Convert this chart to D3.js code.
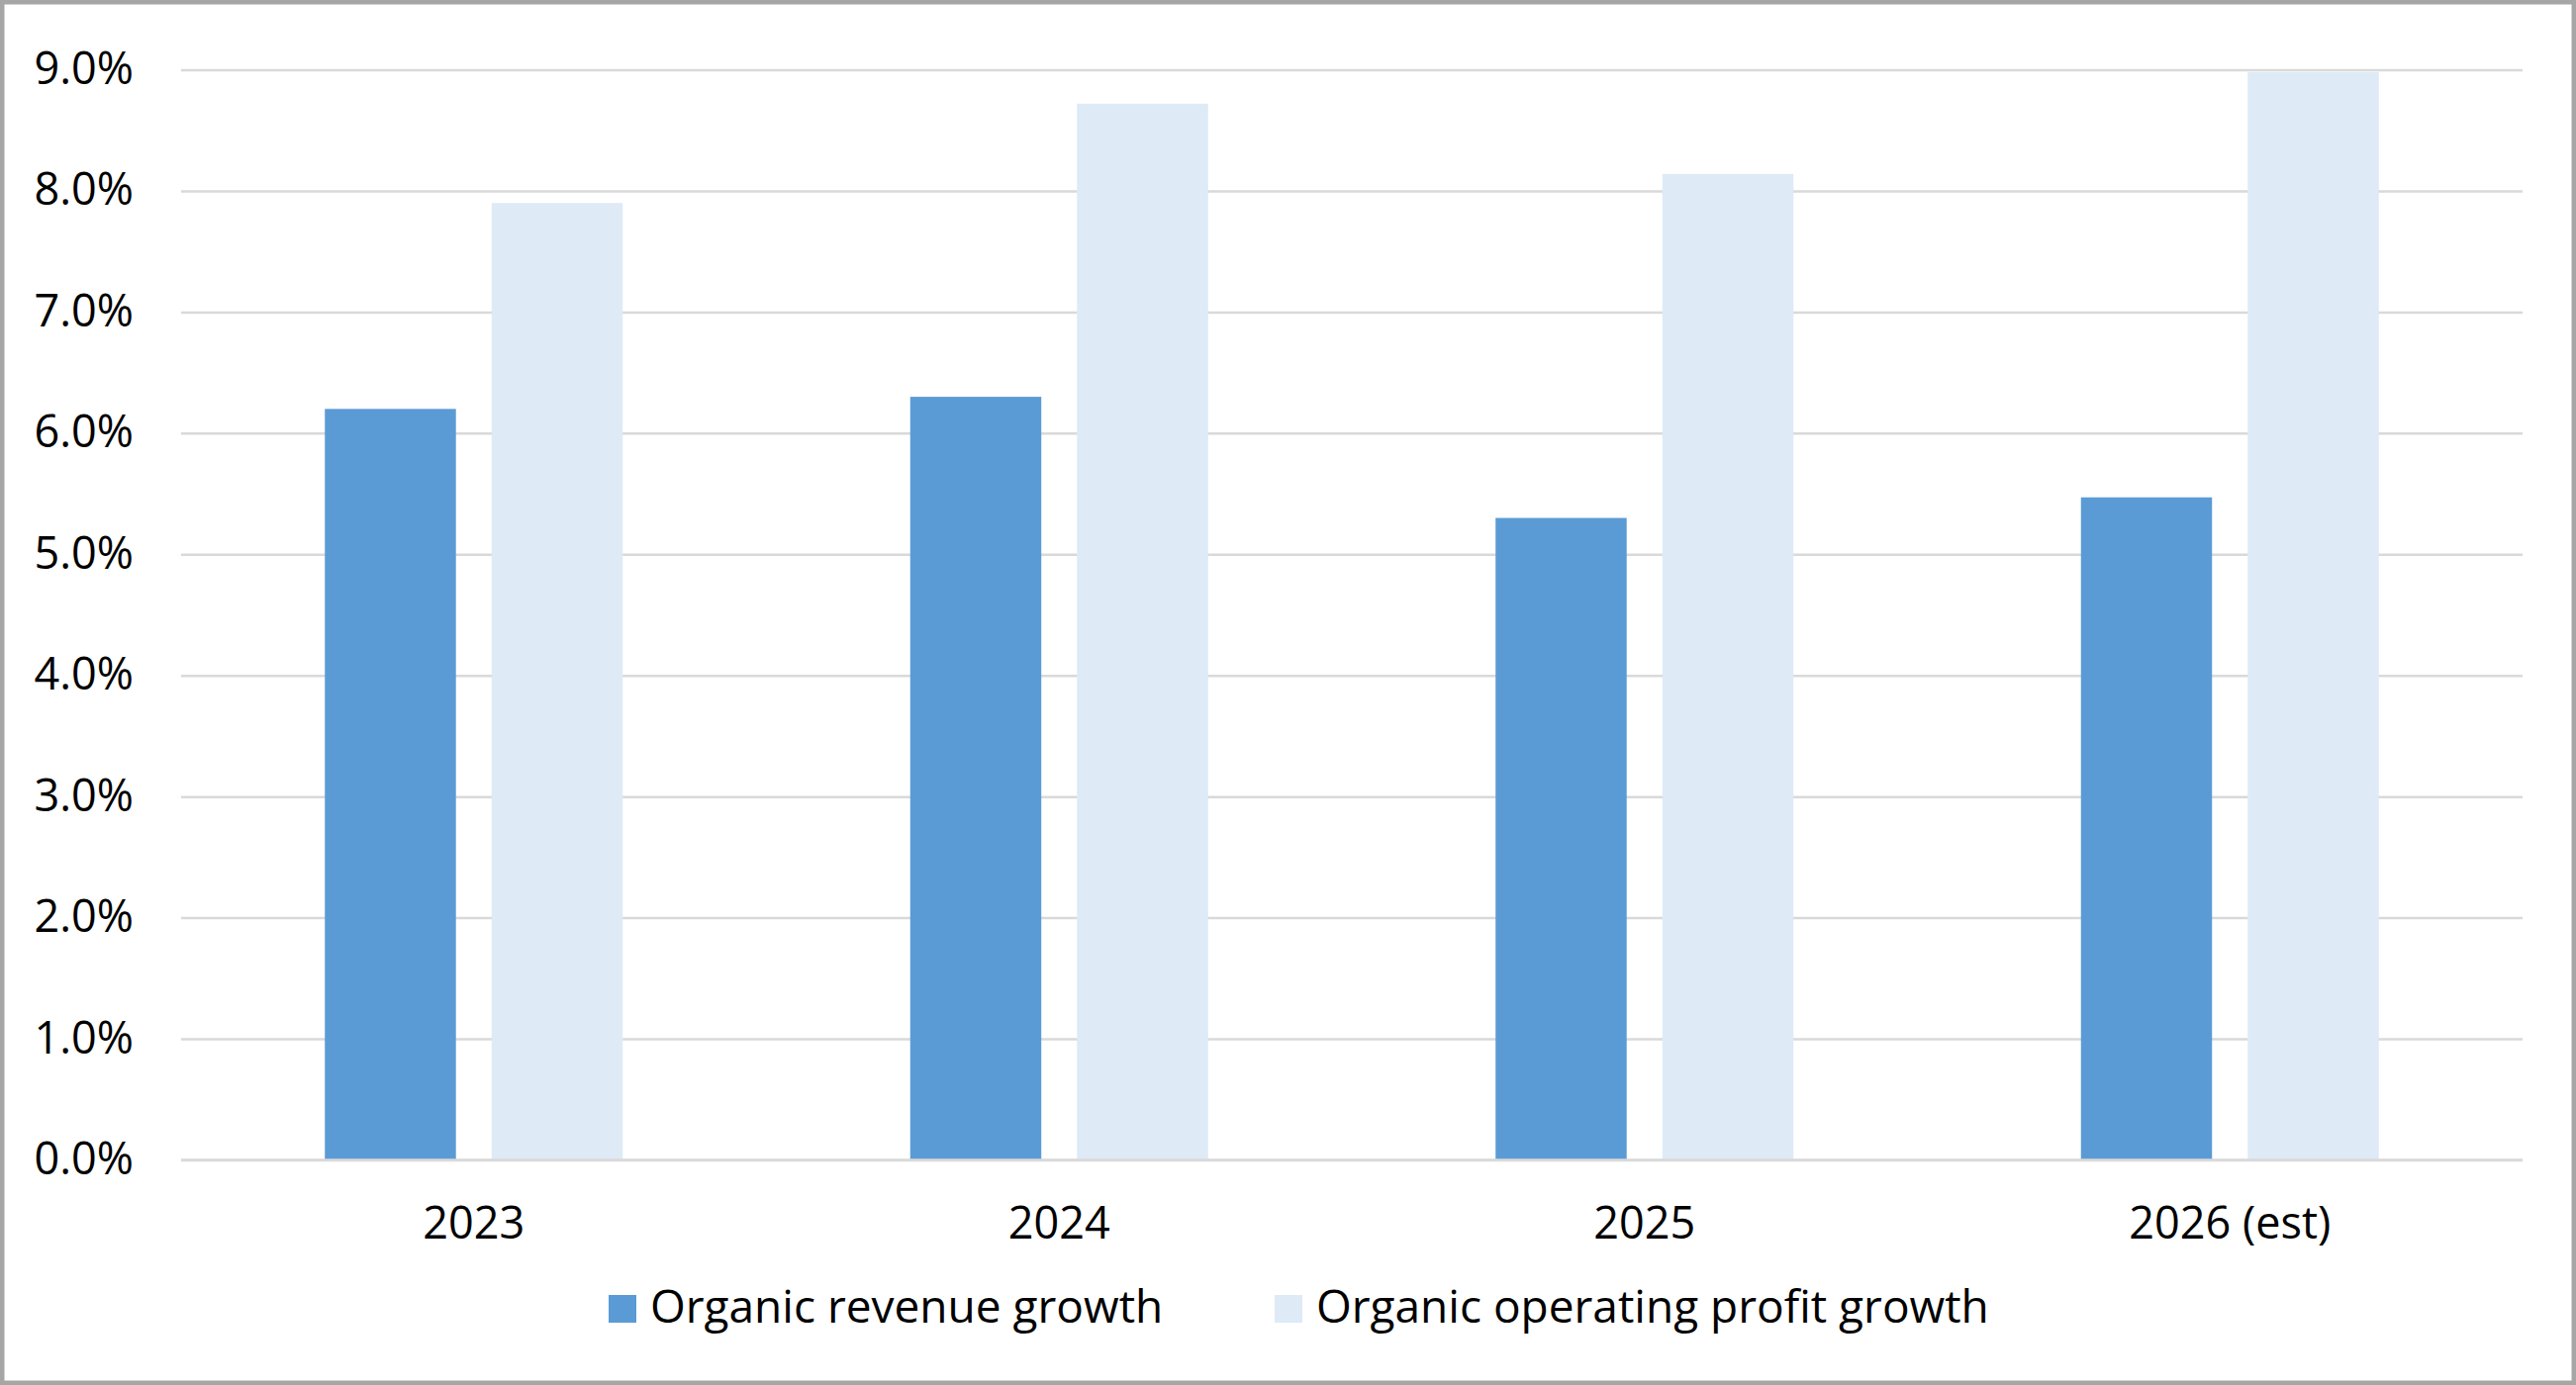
<!DOCTYPE html>
<html>
<head>
<meta charset="utf-8">
<script src="https://cdn.jsdelivr.net/npm/d3@7"></script>
<style>
  html, body { margin: 0; padding: 0; background: #fff; }
  svg { display: block; }
  text { font-family: "Open Sans", "Noto Sans", sans-serif; fill: #000; }
</style>
</head>
<body>
<svg id="chart" width="2603" height="1400"></svg>
<script>
const categories = ["2023", "2024", "2025", "2026 (est)"];
const seriesNames = ["Organic revenue growth", "Organic operating profit growth"];
const revenueGrowth = [6.2, 6.3, 5.3, 5.47];
const profitGrowth = [7.9, 8.72, 8.14, 8.98];
const yTicks = [0, 1, 2, 3, 4, 5, 6, 7, 8, 9];
const seriesColors = ["#5B9BD5", "#DEEAF6"];

const svg = d3.select("#chart");
const W = 2603, H = 1400;

// border
svg.append("rect")
  .attr("x", 2.25).attr("y", 2.25)
  .attr("width", W - 4.5).attr("height", H - 4.5)
  .attr("fill", "#fff")
  .attr("stroke", "#A6A6A6")
  .attr("stroke-width", 4.5);

const plot = { left: 183, right: 2549, top: 70.5, bottom: 1172.5 };

const x0 = d3.scaleBand().domain(categories).range([plot.left, plot.right]).paddingInner(0).paddingOuter(0);
const groupWidth = 301;
const x1 = d3.scaleBand().domain(seriesNames).range([0, groupWidth]).paddingInner(0.214).paddingOuter(0);
const y = d3.scaleLinear().domain([0, 9]).range([plot.bottom, plot.top]);

// gridlines
const yAxis = d3.axisLeft(y).tickValues(yTicks)
  .tickSize(-(plot.right - plot.left))
  .tickFormat(d => d.toFixed(1) + "%")
  .tickPadding(48);
const gy = svg.append("g").attr("transform", `translate(${plot.left},0)`).call(yAxis);
gy.select(".domain").remove();
gy.selectAll(".tick line").attr("stroke", "#D9D9D9").attr("stroke-width", 2.5);
gy.selectAll(".tick text")
  .attr("font-size", 45)
  .attr("fill", "#000")
  .attr("dy", "0.31em")
  .style("font-family", '"Open Sans", "Noto Sans", sans-serif');

// bars
const data = categories.map((c, i) => ({ cat: c, vals: [revenueGrowth[i], profitGrowth[i]] }));
const groups = svg.append("g").selectAll("g").data(data).join("g")
  .attr("transform", d => `translate(${x0(d.cat) + x0.bandwidth() / 2 - groupWidth / 2},0)`);
groups.selectAll("rect").data(d => d.vals.map((v, j) => ({ s: seriesNames[j], v, j })))
  .join("rect")
  .attr("x", d => x1(d.s))
  .attr("width", x1.bandwidth())
  .attr("y", d => y(d.v))
  .attr("height", d => y(0) - y(d.v))
  .attr("fill", d => seriesColors[d.j]);

// baseline (axis line)
svg.append("line")
  .attr("x1", plot.left).attr("x2", plot.right)
  .attr("y1", y(0)).attr("y2", y(0))
  .attr("stroke", "#D9D9D9").attr("stroke-width", 2.5);

// x axis labels
const xAxis = d3.axisBottom(x0).tickSize(0).tickPadding(48);
const gx = svg.append("g").attr("transform", `translate(0,${plot.bottom})`).call(xAxis);
gx.select(".domain").remove();
gx.selectAll(".tick text")
  .attr("font-size", 45)
  .attr("fill", "#000")
  .style("font-family", '"Open Sans", "Noto Sans", sans-serif');

// legend
const legend = svg.append("g");
const legendY = 1322;
const sq = 28;
const legendX = [615, 1288];
seriesNames.forEach((name, i) => {
  const g = legend.append("g").attr("transform", `translate(${legendX[i]},${legendY})`);
  g.append("rect").attr("x", 0).attr("y", -sq / 2 + 1).attr("width", sq).attr("height", sq).attr("fill", seriesColors[i]);
  g.append("text").attr("x", sq + 14).attr("y", 0).attr("dy", "0.33em")
    .attr("font-size", 46).text(name);
});
</script>
</body>
</html>
